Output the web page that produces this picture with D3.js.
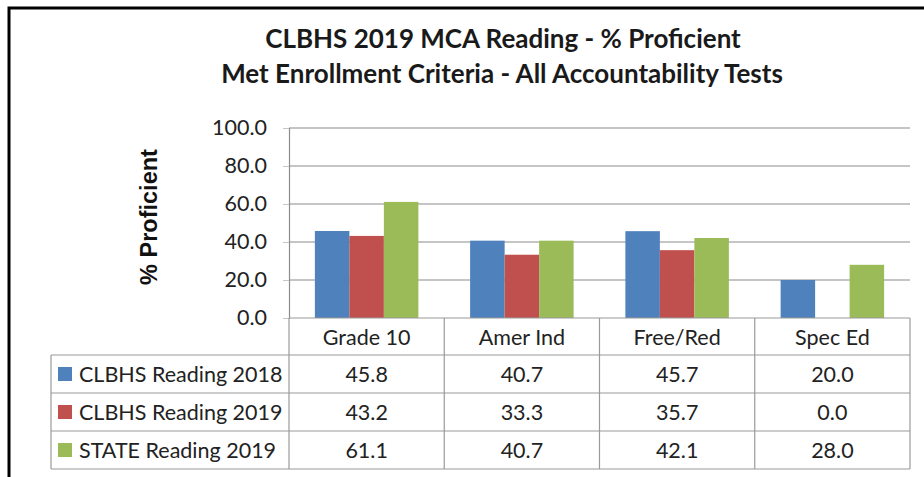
<!DOCTYPE html>
<html lang="en">
<head>
<meta charset="utf-8">
<title>CLBHS 2019 MCA Reading</title>
<style type="text/css">
  body { margin: 0; background: #fff; }
  svg { display: block; font-family: Lato, "Open Sans", sans-serif; }
</style>
<script type="text/javascript" src="https://cdn.jsdelivr.net/npm/d3@7"></script>
</head>
<body>
<script type="text/javascript">
var w = 924, h = 477;

var categories = ["Grade 10", "Amer Ind", "Free/Red", "Spec Ed"];
var seriesNames = ["CLBHS Reading 2018", "CLBHS Reading 2019", "STATE Reading 2019"];
var reading2018 = [45.8, 40.7, 45.7, 20.0];
var reading2019 = [43.2, 33.3, 35.7, 0.0];
var state2019 = [61.1, 40.7, 42.1, 28.0];
var yTicks = [0, 20, 40, 60, 80, 100];
var colors = ["#4f81bd", "#c0504d", "#9bbb59"];

var seriesValues = [reading2018, reading2019, state2019];

var svg = d3.select("body").append("svg")
    .attr("width", w)
    .attr("height", h);

// outer frame
svg.append("rect")
    .attr("x", 9).attr("y", 8)
    .attr("width", 940).attr("height", 520)
    .attr("fill", "none")
    .attr("stroke", "#000")
    .attr("stroke-width", 3);

// title
var title = svg.append("text")
    .attr("text-anchor", "middle")
    .attr("font-weight", "bold")
    .attr("font-size", 26)
    .attr("fill", "#1a1a1a");
title.append("tspan").attr("x", 503).attr("y", 48).text("CLBHS 2019 MCA Reading - % Proficient");
title.append("tspan").attr("x", 502).attr("y", 83).text("Met Enrollment Criteria - All Accountability Tests");

var plotLeft = 289, plotRight = 910, plotTop = 128, plotBottom = 318;
var fs = 21.5;

var x = d3.scaleBand().domain(categories).range([plotLeft, plotRight]);
var xs = d3.scaleBand().domain(seriesNames).range([0, x.bandwidth()]).paddingOuter(0.75);
var y = d3.scaleLinear().domain([0, 100]).range([plotBottom, plotTop]);

// gridlines
svg.append("g").selectAll("line")
    .data(yTicks.filter(function (d) { return d > 0; }))
    .enter().append("line")
    .attr("x1", plotLeft).attr("x2", plotRight)
    .attr("y1", function (d) { return y(d); })
    .attr("y2", function (d) { return y(d); })
    .attr("stroke", "#8c8c8c")
    .attr("stroke-width", 1.2);

// y axis
var yAxis = d3.axisLeft(y)
    .tickValues(yTicks)
    .tickFormat(d3.format(".1f"))
    .tickSize(6)
    .tickPadding(16);
var ga = svg.append("g").attr("transform", "translate(" + plotLeft + ",0)").call(yAxis);
ga.select(".domain").attr("stroke", "#8c8c8c").attr("stroke-width", 1.2);
ga.selectAll(".tick line").attr("stroke", "#c8c8c8");
ga.selectAll(".tick text")
    .attr("font-size", fs)
    .attr("font-family", "Lato, sans-serif")
    .attr("fill", "#222");

svg.append("text")
    .attr("transform", "translate(157,217) rotate(-90)")
    .attr("text-anchor", "middle")
    .attr("font-family", "'Liberation Sans', Arial, sans-serif")
    .attr("font-weight", "bold")
    .attr("font-size", 23.5)
    .attr("fill", "#111")
    .text("% Proficient");

// bars
var groups = svg.append("g").selectAll("g")
    .data(seriesValues)
    .enter().append("g")
    .attr("fill", function (d, i) { return colors[i]; });
groups.each(function (vals, si) {
    d3.select(this).selectAll("rect")
        .data(vals)
        .enter().append("rect")
        .attr("x", function (d, i) { return x(categories[i]) + xs(seriesNames[si]); })
        .attr("width", xs.bandwidth())
        .attr("y", function (d) { return y(d); })
        .attr("height", function (d) { return plotBottom - y(d); });
});

// data table
var headerH = 37, rowH = 38;
var tableLeft = 51;
var rowY = function (i) { return plotBottom + headerH + i * rowH; };
var tableBottom = rowY(seriesNames.length);
var tg = svg.append("g").attr("stroke", "#9a9a9a").attr("stroke-width", 1.2);

// horizontal lines
tg.append("line").attr("x1", plotLeft).attr("x2", plotRight).attr("y1", plotBottom).attr("y2", plotBottom);
d3.range(seriesNames.length + 1).forEach(function (i) {
    tg.append("line").attr("x1", tableLeft).attr("x2", plotRight)
        .attr("y1", rowY(i)).attr("y2", rowY(i));
});
// vertical lines
tg.append("line").attr("x1", tableLeft).attr("x2", tableLeft).attr("y1", rowY(0)).attr("y2", tableBottom);
tg.selectAll("line.v")
    .data(categories.concat(["end"]))
    .enter().append("line")
    .attr("class", "v")
    .attr("x1", function (d) { return d === "end" ? plotRight : x(d); })
    .attr("x2", function (d) { return d === "end" ? plotRight : x(d); })
    .attr("y1", plotBottom)
    .attr("y2", tableBottom);

// category labels
svg.append("g").selectAll("text")
    .data(categories)
    .enter().append("text")
    .attr("x", function (d) { return x(d) + x.bandwidth() / 2; })
    .attr("y", plotBottom + headerH / 2 + 8)
    .attr("text-anchor", "middle")
    .attr("font-size", fs)
    .attr("fill", "#222")
    .text(function (d) { return d; });

// legend rows
var rows = svg.append("g").selectAll("g")
    .data(seriesNames)
    .enter().append("g")
    .attr("transform", function (d, i) { return "translate(0," + rowY(i) + ")"; });
rows.append("rect")
    .attr("x", 58).attr("y", rowH / 2 - 7)
    .attr("width", 14).attr("height", 14)
    .attr("fill", function (d, i) { return colors[i]; });
rows.append("text")
    .attr("x", 79).attr("y", rowH / 2 + 8)
    .attr("font-size", fs)
    .attr("fill", "#222")
    .text(function (d) { return d; });
rows.each(function (name, si) {
    d3.select(this).selectAll("text.val")
        .data(seriesValues[si])
        .enter().append("text")
        .attr("class", "val")
        .attr("x", function (d, i) { return x(categories[i]) + x.bandwidth() / 2; })
        .attr("y", rowH / 2 + 8)
        .attr("text-anchor", "middle")
        .attr("font-size", fs)
        .attr("fill", "#222")
        .text(function (d) { return d3.format(".1f")(d); });
});
</script>
</body>
</html>
